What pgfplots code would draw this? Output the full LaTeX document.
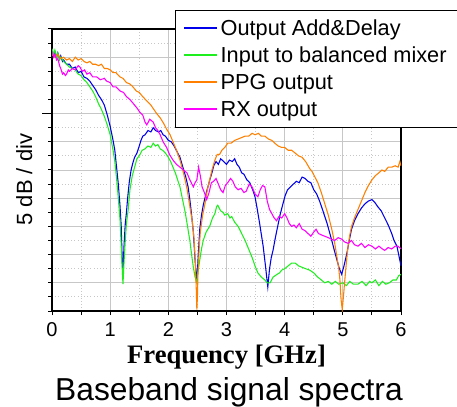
\documentclass[border=0pt]{standalone}
\usepackage{fontspec}
\setmainfont{Liberation Sans}
\newfontfamily\timesfont{Liberation Serif}
\usepackage{pgfplots}
\usepackage{pgfplotstable}
\pgfplotsset{compat=1.18}
\definecolor{cblue}{RGB}{0,0,235}
\definecolor{cgreen}{RGB}{30,238,30}
\definecolor{corange}{RGB}{255,128,0}
\definecolor{cmag}{RGB}{255,0,255}

\pgfplotstableread{
f v
0.00 9.25
0.03 9.05
0.05 9.2
0.08 9.0
0.10 9.15
0.13 8.95
0.15 9.05
0.18 8.85
0.20 8.9
0.25 8.75
0.30 8.75
0.35 8.6
0.40 8.65
0.45 8.45
0.50 8.5
0.55 8.3
0.60 8.25
0.65 8.15
0.70 8.0
0.75 7.85
0.80 7.65
0.85 7.5
0.90 7.3
0.95 6.95
1.00 6.55
1.05 6.05
1.08 5.7
1.11 5.1
1.14 4.5
1.17 3.7
1.19 3.0
1.21 1.6
1.22 1.4
1.24 2.4
1.26 3.1
1.28 3.5
1.30 4.0
1.33 4.6
1.36 5.0
1.39 5.25
1.42 5.45
1.46 5.6
1.50 5.85
1.53 6.05
1.56 6.2
1.60 6.25
1.65 6.4
1.70 6.35
1.74 6.5
1.78 6.4
1.83 6.35
1.87 6.4
1.91 6.25
1.95 6.2
2.00 6.05
2.05 6.0
2.10 5.85
2.15 5.65
2.20 5.45
2.25 5.1
2.30 4.75
2.34 4.4
2.37 3.95
2.40 3.4
2.43 2.8
2.46 1.8
2.49 1.0
2.51 1.8
2.54 2.9
2.57 3.4
2.60 3.75
2.64 4.1
2.68 4.4
2.72 4.7
2.75 4.9
2.78 5.15
2.82 5.3
2.86 5.2
2.90 5.4
2.95 5.3
3.00 5.2
3.05 5.35
3.10 5.3
3.14 5.4
3.18 5.2
3.22 5.1
3.26 4.9
3.30 4.85
3.35 4.65
3.40 4.55
3.45 4.3
3.49 4.05
3.53 3.6
3.57 3.1
3.60 2.7
3.63 2.3
3.67 1.6
3.71 0.85
3.74 1.5
3.77 1.9
3.80 2.15
3.84 2.6
3.88 3.0
3.92 3.4
3.97 3.8
4.01 4.1
4.05 4.3
4.10 4.4
4.15 4.5
4.20 4.6
4.25 4.55
4.30 4.75
4.35 4.7
4.40 4.6
4.45 4.55
4.50 4.3
4.55 4.15
4.60 3.9
4.65 3.6
4.69 3.35
4.73 3.1
4.77 2.8
4.81 2.5
4.86 2.1
4.90 1.8
4.94 1.5
4.98 1.3
5.02 1.6
5.07 2.05
5.11 2.5
5.15 2.9
5.20 3.2
5.26 3.45
5.32 3.65
5.38 3.8
5.44 3.9
5.50 3.95
5.55 3.85
5.60 3.7
5.66 3.55
5.72 3.3
5.78 3.05
5.84 2.75
5.88 2.5
5.93 2.3
5.97 1.9
6.00 1.6
}\bluedata

\pgfplotstableread{
f v
0.00 9.3
0.03 9.1
0.05 9.25
0.08 9.0
0.10 9.15
0.13 8.9
0.15 9.0
0.20 8.85
0.25 8.75
0.30 8.65
0.35 8.6
0.40 8.55
0.45 8.4
0.50 8.35
0.55 8.2
0.60 8.1
0.65 7.95
0.70 7.8
0.75 7.6
0.80 7.35
0.85 7.15
0.90 6.9
0.95 6.6
1.00 6.25
1.05 5.7
1.08 5.3
1.11 4.7
1.14 4.0
1.17 3.2
1.19 2.3
1.21 1.4
1.22 0.95
1.24 1.8
1.26 2.5
1.28 3.1
1.31 3.6
1.34 4.3
1.38 4.8
1.42 5.1
1.46 5.4
1.50 5.5
1.55 5.7
1.60 5.75
1.65 5.85
1.70 5.8
1.74 5.95
1.78 5.85
1.82 5.9
1.86 5.75
1.90 5.7
1.95 5.6
2.00 5.45
2.04 5.3
2.08 5.1
2.12 4.9
2.16 4.65
2.20 4.4
2.25 3.9
2.29 3.5
2.33 3.0
2.37 2.5
2.40 2.0
2.43 1.55
2.46 1.2
2.49 1.0
2.51 1.4
2.54 1.8
2.57 2.2
2.60 2.5
2.65 2.8
2.71 3.0
2.76 3.3
2.80 3.45
2.83 3.7
2.85 3.75
2.90 3.55
2.94 3.5
2.97 3.4
3.02 3.45
3.06 3.3
3.09 3.35
3.14 3.15
3.20 3.0
3.26 2.75
3.32 2.5
3.38 2.2
3.44 1.9
3.49 1.6
3.54 1.35
3.60 1.2
3.66 1.1
3.70 1.0
3.75 1.0
3.80 1.2
3.87 1.3
3.91 1.35
3.95 1.45
4.00 1.5
4.06 1.6
4.12 1.7
4.18 1.7
4.24 1.6
4.30 1.55
4.36 1.5
4.43 1.45
4.50 1.35
4.57 1.2
4.63 1.1
4.69 1.0
4.75 1.05
4.81 0.95
4.87 1.05
4.93 0.95
5.00 1.0
5.06 0.9
5.12 1.05
5.18 0.95
5.26 0.95
5.33 1.05
5.40 0.9
5.46 1.05
5.50 1.0
5.56 1.1
5.62 0.9
5.68 1.05
5.74 0.95
5.80 1.0
5.86 1.1
5.92 1.1
5.96 1.25
6.00 1.3
}\greendata

\pgfplotstableread{
f v
0.00 9.1
0.05 9.0
0.10 9.1
0.15 8.95
0.20 9.0
0.25 8.9
0.30 8.95
0.35 8.85
0.40 9.0
0.45 8.9
0.50 8.95
0.55 8.85
0.60 8.8
0.65 8.85
0.70 8.75
0.75 8.75
0.80 8.7
0.85 8.75
0.90 8.6
0.95 8.6
1.00 8.55
1.05 8.45
1.10 8.45
1.17 8.3
1.22 8.25
1.28 8.1
1.34 8.05
1.39 7.95
1.45 7.8
1.50 7.75
1.56 7.6
1.63 7.45
1.70 7.3
1.75 7.15
1.80 7.0
1.86 6.85
1.92 6.65
1.97 6.45
2.03 6.25
2.08 6.0
2.14 5.7
2.20 5.35
2.26 4.9
2.32 4.35
2.37 3.7
2.41 3.2
2.44 2.6
2.46 1.9
2.48 0.8
2.49 0.05
2.50 0.5
2.51 1.35
2.53 2.2
2.55 2.8
2.59 3.4
2.63 3.8
2.67 4.3
2.71 4.65
2.75 5.0
2.80 5.35
2.84 5.55
2.88 5.55
2.92 5.7
2.97 5.8
3.02 5.95
3.08 5.95
3.14 6.05
3.20 6.1
3.26 6.15
3.32 6.2
3.38 6.2
3.44 6.3
3.49 6.25
3.55 6.3
3.60 6.2
3.66 6.2
3.72 6.1
3.78 6.05
3.83 5.95
3.89 5.85
3.95 5.8
4.00 5.8
4.06 5.7
4.12 5.7
4.18 5.6
4.24 5.5
4.30 5.45
4.36 5.3
4.43 5.05
4.47 4.95
4.52 4.75
4.57 4.55
4.63 4.2
4.69 3.8
4.75 3.4
4.81 2.9
4.86 2.4
4.90 1.9
4.93 1.5
4.95 1.1
4.97 0.4
4.99 0.05
5.01 0.5
5.03 1.0
5.06 1.7
5.09 2.3
5.12 2.7
5.15 3.0
5.20 3.3
5.26 3.6
5.32 3.9
5.38 4.2
5.44 4.45
5.50 4.65
5.56 4.8
5.62 4.9
5.67 5.0
5.72 4.95
5.78 5.1
5.84 5.1
5.90 5.15
5.95 5.1
5.98 5.3
6.00 5.15
}\orangedata

\pgfplotstableread{
f v
0.00 9.2
0.03 9.0
0.05 9.1
0.08 8.9
0.10 8.95
0.13 8.7
0.15 8.6
0.18 8.4
0.20 8.45
0.23 8.35
0.25 8.4
0.28 8.55
0.30 8.5
0.35 8.6
0.40 8.55
0.45 8.7
0.48 8.65
0.52 8.5
0.56 8.55
0.60 8.4
0.65 8.45
0.70 8.3
0.77 8.3
0.83 8.2
0.90 8.25
0.94 8.15
1.00 8.1
1.05 7.95
1.10 7.95
1.17 7.8
1.23 7.75
1.28 7.6
1.34 7.5
1.40 7.35
1.46 7.2
1.51 7.05
1.56 6.95
1.60 6.7
1.63 6.6
1.68 6.8
1.74 6.7
1.78 6.5
1.82 6.4
1.86 6.25
1.91 6.0
1.97 5.8
2.02 5.55
2.08 5.35
2.14 5.2
2.20 5.1
2.26 5.0
2.32 4.9
2.37 4.65
2.43 4.4
2.46 4.55
2.49 4.65
2.52 5.1
2.55 4.8
2.58 4.4
2.62 4.2
2.66 3.95
2.70 4.2
2.74 4.55
2.78 4.6
2.82 4.7
2.86 4.5
2.90 4.3
2.94 4.2
2.98 4.45
3.02 4.55
3.07 4.7
3.11 4.6
3.15 4.4
3.20 4.3
3.25 4.35
3.30 4.2
3.34 4.25
3.39 4.5
3.44 4.4
3.49 4.15
3.54 4.05
3.58 4.3
3.62 4.45
3.66 4.4
3.70 3.9
3.74 3.6
3.78 3.45
3.82 3.3
3.86 3.2
3.90 3.35
3.95 3.3
4.00 3.45
4.04 3.3
4.08 3.1
4.12 3.0
4.16 3.05
4.20 2.95
4.25 3.1
4.30 2.9
4.35 2.85
4.40 2.75
4.45 2.65
4.50 2.8
4.54 2.9
4.58 2.75
4.63 2.7
4.69 2.65
4.75 2.6
4.80 2.55
4.86 2.5
4.92 2.6
4.98 2.55
5.03 2.45
5.09 2.4
5.15 2.5
5.20 2.35
5.26 2.3
5.32 2.4
5.38 2.25
5.44 2.35
5.50 2.3
5.56 2.2
5.62 2.3
5.68 2.2
5.72 2.15
5.78 2.25
5.84 2.2
5.90 2.3
5.95 2.3
6.00 2.2
}\magdata

\begin{document}
\begin{tikzpicture}
\begin{axis}[
  scale only axis,
  width=261.75pt, height=211.5pt,
  at={(0pt,0pt)}, anchor=south west,
  xmin=0, xmax=6, ymin=0, ymax=10,
  xtick={0,1,...,6}, minor x tick num=1,
  ytick={0,1,...,10}, yticklabels={}, minor y tick num=1,
  xtick pos=bottom, ytick pos=left,
  extra y ticks={7}, extra y tick labels={},
  extra y tick style={major tick length=7.5pt, grid=none, tick style={line width=1pt}},
  grid=both,
  major grid style={draw=black!22, line width=0.7pt},
  minor grid style={draw=black!22, dotted, line width=0.7pt},
  axis line style={black, line width=1pt},
  tick style={black, line width=0.75pt},
  tick align=outside,
  major tick length=3pt, minor tick length=3pt,
  /pgf/number format/assume math mode=true,
  xticklabel style={font=\fontsize{15}{18}\selectfont, yshift=-2pt},
  legend cell align=left,
  legend image code/.code={\draw[#1] plot coordinates {(0pt,0.4pt) (24.75pt,0.4pt)};},
  legend image post style={line width=1.3pt},
  legend style={at={(0.3524,1.0674)}, anchor=north west,
    draw=black, fill=white,
    font=\fontsize{16.3}{19}\selectfont,
    inner xsep=6pt, inner ysep=5pt, row sep=3.2pt},
  every axis plot/.append style={line width=0.8pt},
]
\addplot[draw=cblue] table[x=f,y=v] {\bluedata};
\addlegendentry{Output Add\&Delay}
\addplot[draw=cgreen] table[x=f,y=v] {\greendata};
\addlegendentry{Input to balanced mixer}
\addplot[draw=corange] table[x=f,y=v] {\orangedata};
\addlegendentry{PPG output}
\addplot[draw=cmag] table[x=f,y=v] {\magdata};
\addlegendentry{RX output}
\end{axis}
\node[font=\timesfont\bfseries\fontsize{20}{24}\selectfont, anchor=base] at (130.9pt,-39pt) {Frequency [GHz]};
\node[font=\fontsize{23.8}{28}\selectfont, anchor=base] at (132.75pt,-66.75pt) {Baseband signal spectra};
\node[font=\fontsize{16.5}{20}\selectfont, anchor=base, rotate=90] at (-15pt,98.6pt) {5 dB / div};
\pgfresetboundingbox
\path[use as bounding box] (-39pt,-72pt) rectangle (303.75pt,233.25pt);
\end{tikzpicture}
\end{document}
